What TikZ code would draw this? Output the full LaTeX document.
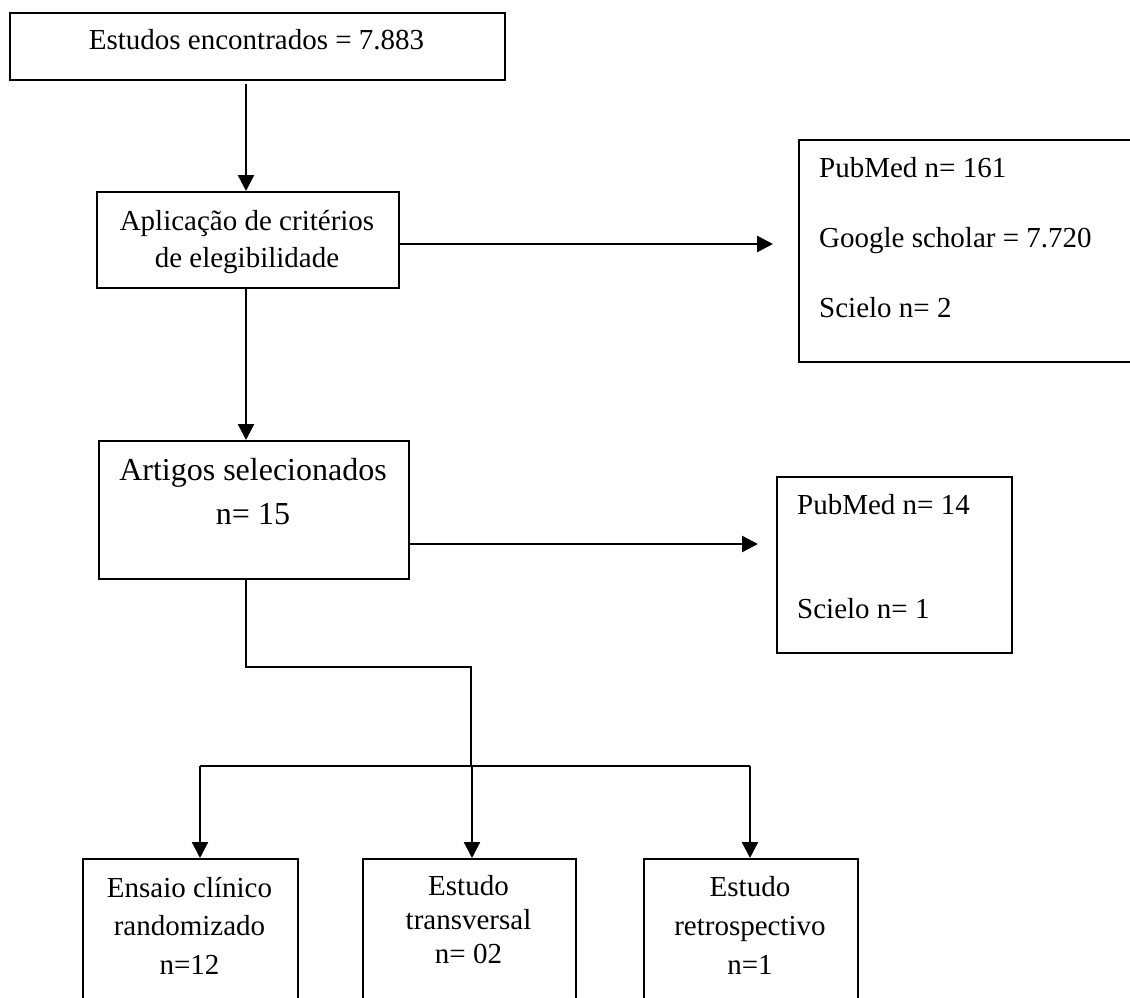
\documentclass[tikz,border=0pt]{standalone}
\usepackage{fontspec}
\setmainfont{Liberation Serif}
\usetikzlibrary{arrows.meta}
\begin{document}
\begin{tikzpicture}[x=1pt,y=-1pt,
  box/.style={draw, line width=2pt, rectangle, inner sep=0pt, anchor=north west},
  txt/.style={inner sep=0pt, font=\fontsize{29}{37}\selectfont, align=center, anchor=base},
  txtl/.style={inner sep=0pt, align=left, anchor=base west},
  arr/.style={line width=2.4pt, -{Triangle[length=16pt,width=16pt]}},
  thinline/.style={line width=1.2pt}]
\useasboundingbox (0,0) rectangle (1130,998);
\clip (0,0) rectangle (1130,998);
% boxes
\node[box, minimum width=495pt, minimum height=67pt] (n1) at (9,12) {};
\node[box, minimum width=302pt, minimum height=96pt] (n2) at (96,191) {};
\node[box, minimum width=342pt, minimum height=222pt] (n3) at (798,139) {};
\node[box, minimum width=310pt, minimum height=138pt] (n4) at (98,440) {};
\node[box, minimum width=235pt, minimum height=176pt] (n5) at (776,476) {};
\node[box, minimum width=215pt, minimum height=160pt] (n6) at (82,858) {};
\node[box, minimum width=213pt, minimum height=160pt] (n7) at (362,858) {};
\node[box, minimum width=214pt, minimum height=160pt] (n8) at (643,858) {};
% texts (base anchor = baseline of last line)
\node[txt] (t1) at (256.5,50) {Estudos encontrados = 7.883};
\node[txt] (t2) at (247,267) {Aplicação de critérios\\de elegibilidade};
\node[txtl, font=\fontsize{29}{70}\selectfont] (t3) at (819,317) {PubMed n= 161\\Google scholar = 7.720\\Scielo n= 2};
\node[txt, font=\fontsize{32}{44}\selectfont] (t4) at (253,524) {Artigos selecionados\\n= 15};
\node[txtl, font=\fontsize{29}{104}\selectfont] (t5) at (797,618) {PubMed n= 14\\Scielo n= 1};
\node[txt, font=\fontsize{29}{38.5}\selectfont] (t6) at (189.5,974) {Ensaio clínico\\randomizado\\n=12};
\node[txt, font=\fontsize{29}{34}\selectfont] (t7) at (468.5,963) {Estudo\\transversal\\n= 02};
\node[txt, font=\fontsize{29}{39}\selectfont] (t8) at (750,974) {Estudo\\retrospectivo\\n=1};
% connectors
\draw[arr, shorten <=3pt] ([xshift=-2pt]n2.north |- n1.south) -- ([xshift=-2pt]n2.north);
\draw[arr, shorten >=25pt] ([yshift=-4pt]n2.east) -- ([yshift=-4pt]n2.east -| n3.west);
\draw[arr] ([xshift=-2pt]n2.south) -- ([xshift=-2pt]n2.south |- n4.north);
\draw[arr, shorten >=18pt] ([yshift=-34pt]n4.east) -- ([yshift=-34pt]n4.east -| n5.west);
\coordinate (j1) at (471,667);
\coordinate (j2) at (471,766);
\coordinate (bl) at (200,766);
\coordinate (br) at (750,766);
\draw[thinline] ([xshift=-8pt]n4.south) |- (j1) -- (j2);
\draw[thinline] (bl) -- (br);
\draw[arr] (bl) -- (bl |- n6.north);
\draw[arr] ([xshift=1pt]j2) -- ([xshift=1pt]j2 |- n7.north);
\draw[arr] (br) -- (br |- n8.north);
\end{tikzpicture}
\end{document}
